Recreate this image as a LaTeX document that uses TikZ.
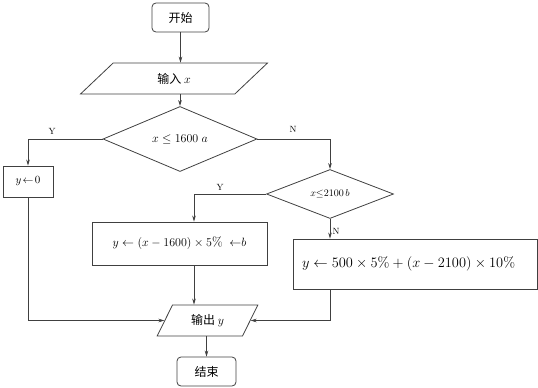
\documentclass[tikz,border=0pt]{standalone}
\usepackage{fontspec}
\newfontfamily\cjk{Noto Sans CJK SC}
\usetikzlibrary{shapes.geometric,arrows.meta}
\definecolor{linec}{HTML}{404040}
\begin{document}
\begin{tikzpicture}[x=1pt,y=-1pt,
  every node/.style={inner sep=0pt},
  ln/.style={draw=linec, line width=0.8pt},
  arr/.style={ln, -{Stealth[length=6pt,width=3.6pt]}},
  term/.style={draw=linec, line width=0.8pt, rectangle, rounded corners=4pt, font=\cjk\fontsize{12}{14}\selectfont},
  proc/.style={draw=linec, line width=0.8pt, rectangle, font=\fontsize{13}{15}\selectfont},
  io/.style={draw=linec, line width=0.8pt, trapezium, trapezium stretches=true, font=\cjk\fontsize{12}{14}\selectfont},
  dec/.style={draw=linec, line width=0.8pt, diamond},
  lab/.style={font=\fontsize{9}{10}\selectfont}]
\useasboundingbox (0,0) rectangle (538,388);
\node[term, minimum width=57pt, minimum height=29pt] (start) at (180.5,17.5) {开始};
\node[io, trapezium left angle=51, trapezium right angle=129, minimum width=188pt, minimum height=31pt] (in) at (174,78.5) {输入 $x$};
\node[dec, minimum width=154pt, minimum height=50pt, font=\fontsize{12}{14}\selectfont] (d1) at (180,139) {$x\leq1600\;a$};
\node[proc, minimum width=50pt, minimum height=31pt, font=\fontsize{11}{13}\selectfont] (b0) at (28,181.5) {$y\!\leftarrow\!0$};
\node[dec, minimum width=127pt, minimum height=49pt, font=\fontsize{10}{12}\selectfont] (d2) at (330,194) {$x{\leq}2100\,b$};
\node[proc, minimum width=175pt, minimum height=43pt] (b2) at (179.5,243.5) {$y\leftarrow\bigl(x-1600\bigr)\times5\%\;\;{\leftarrow}b$};
\node[proc, minimum width=244pt, minimum height=50pt, text width=226pt, align=left, font=\fontsize{14.5}{16}\selectfont] (b3) at (415,264) {$y\leftarrow500\times5\%+\bigl(x-2100\bigr)\times10\%$};
\node[io, trapezium left angle=60, trapezium right angle=120, minimum width=101pt, minimum height=31pt] (out) at (207.5,320.5) {输出 $y$};
\node[term, minimum width=59pt, minimum height=29pt] (end) at (206.5,371.5) {结束};
\coordinate (c2) at (194,194);
\coordinate (c3) at (330,320.5);
\node[lab] (ly1) at (52,131) {Y};
\node[lab] (ln1) at (293,129) {N};
\node[lab] (ly2) at (220,187) {Y};
\node[lab] (ln2) at (336,231) {N};
\draw[arr] (start.south) -- (start.south |- in.north);
\draw[arr] (d1.north |- in.south) -- (d1.north);
\draw[arr] (d1.west) -| (b0.north);
\draw[arr] (d1.east) -| (d2.north);
\draw[arr] (d2.west) -- (c2) -- (c2 |- b2.north);
\draw[arr] (d2.south) -- (d2.south |- b3.north);
\draw[arr] (c2 |- b2.south) -- (c2 |- out.north);
\draw[arr] (b0.south) |- (out.left side);
\draw[arr] (c3 |- b3.south) -- (c3) -- (out.right side);
\draw[arr] (end.north |- out.south) -- (end.north);
\end{tikzpicture}
\end{document}
